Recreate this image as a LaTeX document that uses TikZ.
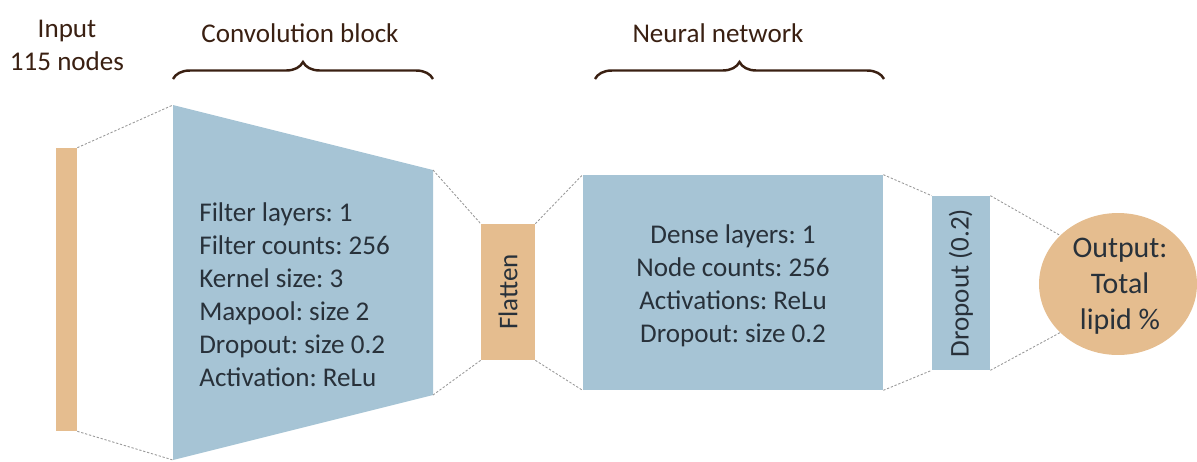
\documentclass[tikz,border=0pt]{standalone}
\usepackage{fontspec}
\setmainfont{Carlito}
\frenchspacing
\usetikzlibrary{positioning, decorations.pathreplacing, shapes.geometric}

\definecolor{convblue}{HTML}{A6C4D5}
\definecolor{tanfill}{HTML}{E5BD8F}
\definecolor{darkbrown}{HTML}{3A2012}
\definecolor{inktext}{HTML}{28313A}

\begin{document}
\begin{tikzpicture}[
        x=0.02cm, y=-0.02cm,
        layer/.style={rectangle, fill=convblue, inner sep=0pt},
        bar/.style={rectangle, fill=tanfill, inner sep=0pt},
        body/.style={font=\fontsize{15.4}{18.8}\selectfont, text=inktext, inner sep=0pt},
        title/.style={font=\fontsize{15.4}{18.8}\selectfont, text=darkbrown, align=center, inner sep=0pt},
        guide/.style={gray!80, line width=0.5pt, dash pattern=on 1.3pt off 1pt},
        brace/.style={decorate, decoration={brace, amplitude=0.34cm}, line width=1.4pt, draw=darkbrown},
    ]
        \useasboundingbox (0,0) rectangle (1197,461);

        % ====== 输入层 ======
        \node[bar, minimum width=0.42cm, minimum height=5.66cm] (input) at (66.5,289.5) {};
        \node[title] (inputlbl) at (67,45) {Input\\115 nodes};

        % ====== 卷积块（梯形） ======
        \coordinate (convTL) at (173,105);
        \coordinate (convTR) at (433,170);
        \coordinate (convBR) at (433,395);
        \coordinate (convBL) at (173,460);
        \fill[convblue] (convTL) -- (convTR) -- (convBR) -- (convBL) -- cycle;
        \node[body, anchor=west, align=left] (convtxt) at (199,295)
            {Filter layers: 1\\Filter counts: 256\\Kernel size: 3\\Maxpool: size 2\\Dropout: size 0.2\\Activation: ReLu};

        % ====== Flatten ======
        \node[bar, minimum width=1.08cm, minimum height=2.72cm] (flat) at (508,292) {};
        \node[body, rotate=90] (flatlbl) at (flat) {Flatten};

        % ====== 全连接网络 ======
        \node[layer, minimum width=6cm, minimum height=4.3cm] (nn) at (733,282.5) {};
        \node[body, align=center] (nntxt) at (733,286)
            {Dense layers: 1\\Node counts: 256\\Activations: ReLu\\Dropout: size 0.2};

        % ====== Dropout ======
        \node[layer, minimum width=1.16cm, minimum height=3.48cm] (drop) at (961,283) {};
        \node[body, rotate=90] (droplbl) at (drop) {Dropout (0.2)};

        % ====== 输出 ======
        \node[ellipse, fill=tanfill, minimum width=3.16cm, minimum height=2.84cm, inner sep=0pt] (out) at (1118,284) {};
        \node[body, align=center, font=\fontsize{17}{20.6}\selectfont] (outlbl) at (1120,286) {Output:\\Total\\lipid \%};

        % ====== 顶部括号与标题 ======
        \coordinate (convL) at (173,79);
        \coordinate (convR) at (433,79);
        \coordinate (nnL)   at (595,79);
        \coordinate (nnR)   at (884,79);
        \draw[brace] (convL) -- (convR);
        \draw[brace] (nnL) -- (nnR);
        \node[title, anchor=base] (convtitle) at (300,42) {Convolution block};
        \node[title, anchor=base] (nntitle)   at (718,42) {Neural network};

        % ====== 虚线连接 ======
        \draw[guide] (input.north east) -- (convTL);
        \draw[guide] (input.south east) -- (convBL);
        \draw[guide] (convTR) -- (flat.north west);
        \draw[guide] (convBR) -- (flat.south west);
        \draw[guide] (flat.north east) -- (nn.north west);
        \draw[guide] (flat.south east) -- (nn.south west);
        \draw[guide] (nn.north east) -- (drop.north west);
        \draw[guide] (nn.south east) -- (drop.south west);
        \draw[guide] (drop.north east) -- (out.140);
        \draw[guide] (drop.south east) -- (out.-140);
\end{tikzpicture}
\end{document}
